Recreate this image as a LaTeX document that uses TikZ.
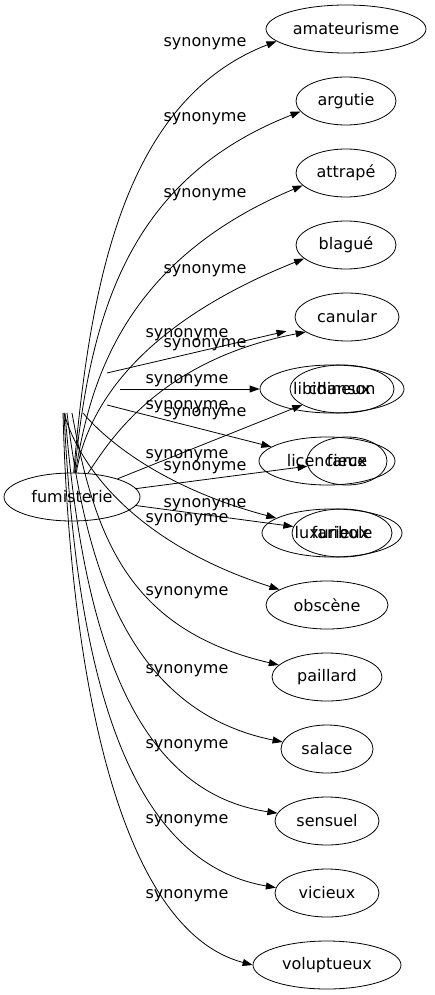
\documentclass[tikz,border=0pt]{standalone}
\usepackage{fontspec}
\setmainfont{DejaVu Sans}
\usetikzlibrary{arrows.meta,shapes.geometric}

\begin{document}
\begin{tikzpicture}[x=1pt,y=-1pt]
\tikzset{
  graphnode/.style={ellipse,draw=black,line width=0.8pt,minimum height=48pt,inner sep=0pt,font=\fontsize{16}{19}\selectfont},
  graphedge/.style={draw=black,line width=0.8pt},
  directed/.style={graphedge,-{Triangle[length=10pt,width=7pt]}},
  edgelabel/.style={anchor=base,inner sep=0pt,font=\fontsize{16}{19}\selectfont}
}
\useasboundingbox (0,0) rectangle (435,995);
\node[graphnode,minimum width=136pt] (n_fumisterie) at (72,497) {fumisterie};
\node[graphnode,minimum width=160pt] (n_amateurisme) at (346,29) {amateurisme};
\node[graphnode,minimum width=100pt] (n_argutie) at (346,101) {argutie};
\node[graphnode,minimum width=100pt] (n_attrape) at (346,173) {attrapé};
\node[graphnode,minimum width=100pt] (n_blague) at (346,245) {blagué};
\node[graphnode,minimum width=104pt] (n_canular) at (347,317) {canular};
\node[graphnode,minimum width=144pt] (n_libidineux) at (332,389) {libidineux};
\node[graphnode,minimum width=104pt] (n_chanson) at (342,389) {chanson};
\node[graphnode,minimum width=136pt] (n_licencieux) at (327,461) {licencieux};
\node[graphnode,minimum width=80pt] (n_farce) at (347,461) {farce};
\node[graphnode,minimum width=140pt] (n_luxurieux) at (332,533) {luxurieux};
\node[graphnode,minimum width=100pt] (n_faribole) at (342,533) {faribole};
\node[graphnode,minimum width=122pt] (n_obscene) at (327,605) {obscène};
\node[graphnode,minimum width=110pt] (n_paillard) at (327,677) {paillard};
\node[graphnode,minimum width=92pt] (n_salace) at (327,749) {salace};
\node[graphnode,minimum width=104pt] (n_sensuel) at (327,821) {sensuel};
\node[graphnode,minimum width=104pt] (n_vicieux) at (327,893) {vicieux};
\node[graphnode,minimum width=148pt] (n_voluptueux) at (327,965) {voluptueux};
% loose tails
\coordinate (t_canular) at (107,373);
\coordinate (t_libidineux) at (120,389);
\coordinate (t_licencieux) at (107,405);
\coordinate (t_luxurieux) at (83,413);
\coordinate (t_paillard) at (72,413);
\coordinate (t_salace) at (67,413);
\coordinate (t_sensuel) at (65,413);
\coordinate (t_obscene) at (64,413);
\coordinate (t_vicieux) at (64,413);
\coordinate (t_voluptueux) at (63,413);
% labels
\node[edgelabel] (l_amateurisme) at (205,47) {synonyme};
\node[edgelabel] (l_argutie) at (205,122) {synonyme};
\node[edgelabel] (l_attrape) at (205,197) {synonyme};
\node[edgelabel] (l_blague) at (205,273) {synonyme};
\node[edgelabel] (l_canular1) at (187,337) {synonyme};
\node[edgelabel] (l_canular2) at (205,347) {synonyme};
\node[edgelabel] (l_libidineux) at (187,383) {synonyme};
\node[edgelabel] (l_licencieux) at (187,409) {synonyme};
\node[edgelabel] (l_chanson) at (205,416) {synonyme};
\node[edgelabel] (l_luxurieux) at (187,458) {synonyme};
\node[edgelabel] (l_farce) at (205,470) {synonyme};
\node[edgelabel] (l_faribole) at (205,507) {synonyme};
\node[edgelabel] (l_obscene) at (187,522) {synonyme};
\node[edgelabel] (l_paillard) at (187,595) {synonyme};
\node[edgelabel] (l_salace) at (187,673) {synonyme};
\node[edgelabel] (l_sensuel) at (187,748) {synonyme};
\node[edgelabel] (l_vicieux) at (187,823) {synonyme};
\node[edgelabel] (l_voluptueux) at (187,898) {synonyme};
% edges
\draw[directed] (n_fumisterie.86) .. controls (90,280) and (125,100) .. (n_amateurisme.190);
\draw[directed] (n_fumisterie.84) .. controls (90,320) and (125,180) .. (n_argutie.193);
\draw[directed] (n_fumisterie.82) .. controls (90,380) and (125,260) .. (n_attrape.196);
\draw[directed] (n_fumisterie.80) .. controls (85,420) and (125,330) .. (n_blague.198);
\draw[directed] (n_fumisterie.56) .. controls (110,440) and (160,360) .. (n_canular.200);
\draw[directed,shorten >=14pt] (t_canular) -- (n_canular);
\draw[directed] (t_libidineux) -- (n_libidineux);
\draw[directed] (t_licencieux) -- (n_licencieux);
\draw[directed] (n_fumisterie) -- (n_chanson);
\draw[directed] (n_fumisterie) -- (n_farce);
\draw[directed] (t_luxurieux) .. controls (110,445) and (170,490) .. (n_luxurieux.165);
\draw[directed] (n_fumisterie) -- (n_faribole);
\draw[directed] (t_obscene) .. controls (80,470) and (140,545) .. (n_obscene.162);
\draw[directed] (t_paillard) .. controls (95,540) and (130,630) .. (n_paillard.166);
\draw[directed] (t_salace) .. controls (85,560) and (125,710) .. (n_salace.171);
\draw[directed] (t_sensuel) .. controls (80,600) and (120,790) .. (n_sensuel.171);
\draw[directed] (t_vicieux) .. controls (75,640) and (115,860) .. (n_vicieux.174);
\draw[directed] (t_voluptueux) .. controls (70,680) and (120,930) .. (n_voluptueux.180);
\end{tikzpicture}
\end{document}
